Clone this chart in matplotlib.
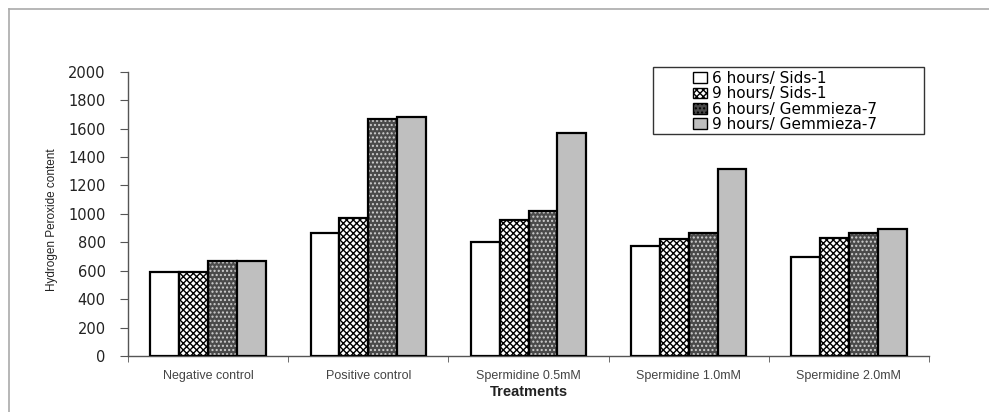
import matplotlib
matplotlib.use('Agg')
import matplotlib.pyplot as plt
from matplotlib.lines import Line2D
from matplotlib.patches import Rectangle
import numpy as np

# data
treatments = ['Negative control', 'Positive control', 'Spermidine 0.5mM',
              'Spermidine 1.0mM', 'Spermidine 2.0mM']
series_names = ['6 hours/ Sids-1', '9 hours/ Sids-1',
                '6 hours/ Gemmieza-7', '9 hours/ Gemmieza-7']
sids_6h = [592, 866, 800, 777, 695]
sids_9h = [590, 970, 958, 822, 829]
gem_6h = [665, 1669, 1023, 868, 868]
gem_9h = [665, 1683, 1566, 1315, 892]
yticks = [0, 200, 400, 600, 800, 1000, 1200, 1400, 1600, 1800, 2000]

# looks per series: face, hatch, hatch colour
styles = [
    ('white', None, None),
    ('white', 'xxxxx', 'black'),
    ('#4a4a4a', '....', '#d0d0d0'),
    ('#bfbfbf', None, None),
]

fig = plt.figure(figsize=(9.89, 4.12), dpi=100)
ax = fig.add_axes([128 / 989, 1 - 356 / 412, 801 / 989, (356 - 71.7) / 412])

x = np.arange(len(treatments))
w = 0.18
handles = []
for j, vals in enumerate([sids_6h, sids_9h, gem_6h, gem_9h]):
    face, hatch, hcol = styles[j]
    pos = x + (j - 1.5) * w
    if hatch:
        # hatch layer first, then outline on top
        ax.bar(pos, vals, w, facecolor=face, edgecolor=hcol, hatch=hatch,
               linewidth=0, zorder=2)
        b = ax.bar(pos, vals, w, facecolor='none', edgecolor='black',
                   linewidth=1.6, zorder=3)
        h = ax.bar([0], [0], 0, facecolor=face, edgecolor=hcol, hatch=hatch,
                   linewidth=0)
    else:
        b = ax.bar(pos, vals, w, facecolor=face, edgecolor='black',
                   linewidth=1.6, zorder=3)
        h = b
    handles.append(h)

ax.set_xlim(-0.5, len(treatments) - 0.5)
ax.set_ylim(0, 2000)
ax.set_yticks(yticks)
ax.set_yticklabels([str(v) for v in yticks], fontsize=10.5, color='#222222')
ax.set_xticks(x)
ax.set_xticklabels(treatments, fontsize=9, family='Liberation Sans', color='#444444')
ax.set_xticks(np.arange(len(treatments) + 1) - 0.5, minor=True)
ax.tick_params(axis='x', which='major', length=0, pad=10)
ax.tick_params(axis='x', which='minor', length=4, direction='out', color='#555555')
ax.tick_params(axis='y', length=6, direction='out', color='#555555', pad=10)

for s in ['top', 'right']:
    ax.spines[s].set_visible(False)
for s in ['left', 'bottom']:
    ax.spines[s].set_color('#555555')
    ax.spines[s].set_linewidth(1.0)

ax.set_xlabel('Treatments', fontsize=10.5, fontweight='bold', family='Liberation Sans',
              color='#222222', labelpad=2)
fig.text(52 / 989, 1 - 220 / 412, 'Hydrogen Peroxide content', rotation=90,
         ha='center', va='center', fontsize=8.5, family='Liberation Sans', color='#222222')

# legend without frame, boxed by hand like the original
leg = fig.legend(handles, series_names, loc='upper left',
                 bbox_to_anchor=(684 / 989, 1 - 62 / 412), frameon=False,
                 fontsize=11, handlelength=0.9, handleheight=0.7,
                 handletextpad=0.3, labelspacing=0.02, borderpad=0.1)
for p in leg.get_patches():
    p.set_edgecolor('black')
    p.set_linewidth(1.0)
fig.patches.append(Rectangle((653 / 989, 1 - 134 / 412), 271 / 989, 67 / 412,
                             transform=fig.transFigure, fill=False,
                             edgecolor='#333333', linewidth=1.0))

# thin outer frame of the chart area
fig.lines.append(Line2D([9 / 989, 9 / 989], [0, 1 - 9 / 412], transform=fig.transFigure,
                        color='#aaaaaa', linewidth=1.2))
fig.lines.append(Line2D([9 / 989, 1], [1 - 9 / 412, 1 - 9 / 412], transform=fig.transFigure,
                        color='#aaaaaa', linewidth=1.2))

fig.savefig('out.png', dpi=100, facecolor='white')
